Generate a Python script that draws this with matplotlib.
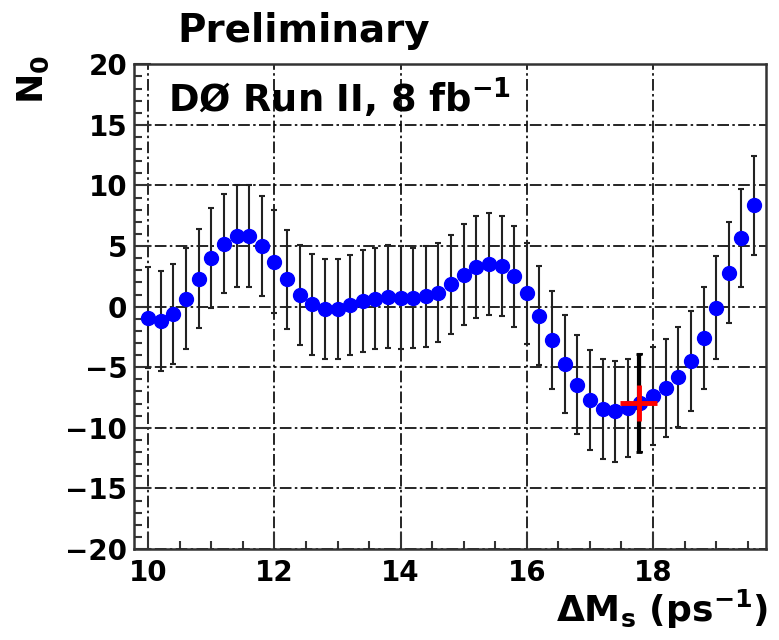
import matplotlib
matplotlib.use("Agg")
import matplotlib.pyplot as plt
from matplotlib.ticker import MultipleLocator

plt.rcParams['font.family'] = ['DejaVu Sans']
plt.rcParams['font.weight'] = 'bold'
plt.rcParams['mathtext.fontset'] = 'dejavusans'
plt.rcParams['mathtext.default'] = 'bf'

# amplitude scan: N0 vs trial Delta M_s
delta_ms = [10.0, 10.2, 10.4, 10.6, 10.8, 11.0, 11.2, 11.4, 11.6, 11.8,
            12.0, 12.2, 12.4, 12.6, 12.8, 13.0, 13.2, 13.4, 13.6, 13.8,
            14.0, 14.2, 14.4, 14.6, 14.8, 15.0, 15.2, 15.4, 15.6, 15.8,
            16.0, 16.2, 16.4, 16.6, 16.8, 17.0, 17.2, 17.4, 17.6, 17.8,
            18.0, 18.2, 18.4, 18.6, 18.8, 19.0, 19.2, 19.4, 19.6]
n0 = [-0.9, -1.2, -0.6, 0.65, 2.3, 4.0, 5.2, 5.8, 5.8, 5.0,
      3.7, 2.25, 0.95, 0.18, -0.18, -0.18, 0.15, 0.45, 0.67, 0.8,
      0.75, 0.72, 0.85, 1.15, 1.85, 2.65, 3.25, 3.55, 3.35, 2.5,
      1.1, -0.75, -2.75, -4.72, -6.45, -7.7, -8.43, -8.64, -8.38, -7.95,
      -7.37, -6.7, -5.8, -4.5, -2.58, -0.08, 2.8, 5.7, 8.37]
n0_err = [4.2, 4.15, 4.1, 4.15, 4.1, 4.1, 4.1, 4.2, 4.2, 4.1,
          4.25, 4.1, 4.1, 4.15, 4.15, 4.15, 4.15, 4.2, 4.15, 4.25,
          4.25, 4.15, 4.15, 4.1, 4.1, 4.2, 4.2, 4.2, 4.15, 4.15,
          4.15, 4.1, 4.05, 4.05, 4.1, 4.15, 4.15, 4.15, 4.05, 4.08,
          4.05, 4.02, 4.12, 4.13, 4.2, 4.24, 4.15, 4.05, 4.08]

# measured oscillation frequency
ms_meas = [17.77]
n0_meas = [-7.95]
n0_meas_err = [4.08]

W, H = 779, 640
fig = plt.figure(figsize=(W / 100, H / 100), dpi=100)
ax = fig.add_axes([134.3 / W, 1 - 549 / H, (766 - 134.3) / W, (549 - 64.3) / H])

ax.errorbar(delta_ms, n0, yerr=n0_err, fmt='o', color='#0000ff', ms=10,
            mec='#0000ff', ecolor='#222222', elinewidth=1.5, capsize=2.5,
            capthick=1.5, zorder=3)
ax.errorbar(ms_meas, n0_meas, yerr=n0_meas_err, fmt='none', ecolor='black',
            elinewidth=3, capsize=2.5, capthick=2, zorder=4)
ax.errorbar(ms_meas, n0_meas, xerr=0.29, yerr=1.5, fmt='none',
            ecolor='#ff0000', elinewidth=3.5, capsize=0, zorder=5)

ax.set_xlim(9.78, 19.79)
ax.set_ylim(-20, 20)
ax.xaxis.set_major_locator(MultipleLocator(2))
ax.xaxis.set_minor_locator(MultipleLocator(0.5))
ax.yaxis.set_major_locator(MultipleLocator(5))
ax.yaxis.set_minor_locator(MultipleLocator(1))

ax.grid(True, which='major', color='black', lw=1.2, dashes=(7, 2, 1.5, 2))
ax.set_axisbelow(True)

ax.tick_params(which='both', direction='in', top=False, right=False,
               width=1.5, color='#333333', labelsize=20)
ax.tick_params(which='major', length=12)
ax.tick_params(axis='x', which='major', pad=7)
ax.tick_params(axis='y', which='major', pad=5)
ax.tick_params(which='minor', length=6)
for sp in ax.spines.values():
    sp.set_linewidth(1.8)
    sp.set_color('#333333')

fig.text(304 / W, 1 - 42 / H, 'Preliminary', fontsize=28, fontweight='bold',
         ha='center', va='baseline')
ax.text(0.053, 0.9016, r'DØ Run II, 8 fb$^{-1}$', transform=ax.transAxes,
        fontsize=26.5, fontweight='bold', ha='left', va='baseline')
fig.text(33 / W, 1 - 80 / H, r'N$_0$', fontsize=26, fontweight='bold',
         rotation=90, ha='center', va='center')
fig.text(768 / W, 1 - 622 / H, r'$\Delta$M$_s$ (ps$^{-1}$)', fontsize=26,
         fontweight='bold', ha='right', va='baseline')

fig.savefig('out.png', dpi=100)
